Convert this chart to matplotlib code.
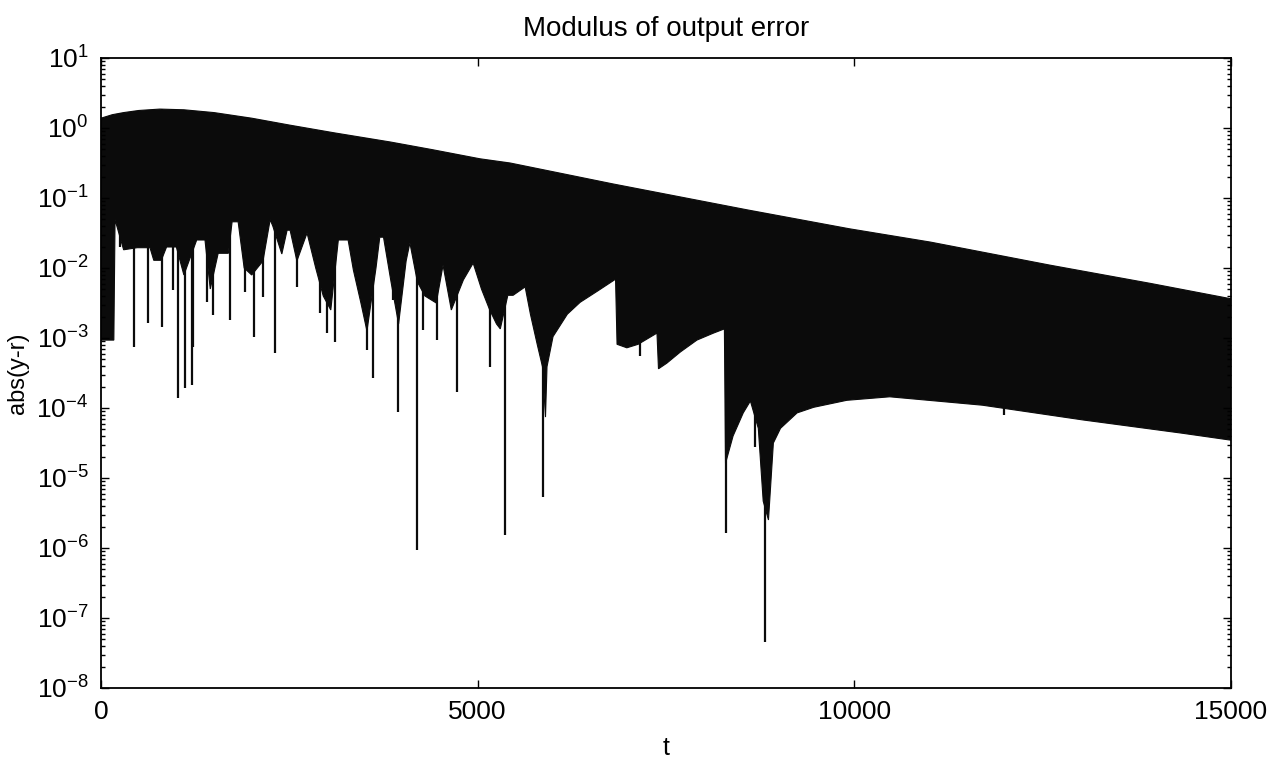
import matplotlib
matplotlib.use("Agg")
import matplotlib.pyplot as plt
import numpy as np
from matplotlib.ticker import LogLocator, NullFormatter, FixedLocator

plt.rcParams['font.family'] = ['Liberation Sans', 'DejaVu Sans']
plt.rcParams['mathtext.fontset'] = 'custom'
plt.rcParams['mathtext.rm'] = 'Liberation Sans'
plt.rcParams['mathtext.it'] = 'Liberation Sans:italic'

# upper edge of the oscillation band (t, log10 |y-r|)
upper_t = [0, 150, 300, 500, 780, 1100, 1500, 2000, 2510, 3100, 3840, 4400, 5030, 5430,
           6800, 8580, 9935, 11010, 12600, 13930, 15000]
upper_exp = [0.14, 0.19, 0.22, 0.25, 0.27, 0.26, 0.22, 0.14, 0.04, -0.07, -0.20, -0.31,
             -0.44, -0.50, -0.80, -1.17, -1.44, -1.63, -1.96, -2.22, -2.44]

# lower edge of the band (without the thin spikes)
lower_t = [0, 170, 186, 300, 480, 650, 700, 800, 870, 1000, 1100, 1270, 1380, 1450, 1555,
           1690, 1740, 1820, 1900, 2000, 2150, 2245, 2280, 2400, 2470, 2510, 2600, 2735,
           2850, 2950, 3050, 3150, 3280, 3350, 3450, 3530, 3650, 3700, 3750, 3850, 3950,
           4050, 4100, 4200, 4300, 4450, 4540, 4650, 4810, 4940, 5050, 5160, 5250, 5300,
           5400, 5470, 5630, 5700, 5790, 5860, 5900, 5920, 6000, 6190, 6360, 6590, 6830,
           6850, 6980, 7130, 7380, 7400, 7510, 7690, 7910, 8130, 8275, 8290, 8390, 8525,
           8620, 8725, 8790, 8860, 8925, 9020, 9240, 9460, 9900, 10470, 11700, 13030,
           14350, 15000]
lower_exp = [-3.03, -3.03, -1.31, -1.74, -1.71, -1.71, -1.89, -1.89, -1.70, -1.70, -2.10,
             -1.60, -1.60, -2.30, -1.79, -1.79, -1.34, -1.34, -2.00, -2.10, -1.90, -1.31,
             -1.40, -1.80, -1.46, -1.46, -1.90, -1.50, -2.00, -2.40, -2.60, -1.60, -1.60,
             -2.03, -2.50, -2.90, -2.00, -1.56, -1.56, -2.20, -2.80, -1.90, -1.64, -2.20,
             -2.40, -2.50, -1.96, -2.60, -2.17, -1.93, -2.30, -2.60, -2.80, -2.87, -2.39,
             -2.39, -2.27, -2.66, -3.09, -3.41, -4.13, -3.41, -2.98, -2.66, -2.49, -2.33,
             -2.16, -3.09, -3.14, -3.09, -2.93, -3.44, -3.36, -3.20, -3.03, -2.93, -2.87,
             -4.79, -4.40, -4.07, -3.90, -4.29, -5.33, -5.60, -4.50, -4.29, -4.07, -3.99,
             -3.89, -3.84, -3.96, -4.17, -4.36, -4.46]

# thin downward spikes (t, log10 of their tip)
spike_t = [252, 440, 625, 810, 955, 1020, 1115, 1205, 1225, 1405, 1490, 1710, 1910, 2030,
           2150, 2310, 2600, 2910, 3000, 3110, 3530, 3610, 3880, 3945, 4195, 4280, 4460,
           4730, 5165, 5360, 5865, 7150, 8300, 8680, 8820, 11990]
spike_exp = [-1.70, -3.13, -2.79, -2.84, -2.31, -3.86, -3.71, -3.67, -3.13, -2.49, -2.67,
             -2.74, -2.34, -2.99, -2.41, -3.21, -2.27, -2.64, -2.93, -3.06, -3.17, -3.57,
             -2.46, -4.06, -6.03, -2.89, -3.03, -3.77, -3.41, -5.81, -5.27, -3.26, -5.79,
             -4.56, -7.34, -4.10]

upper_v = 10.0 ** np.array(upper_exp)
lower_v = 10.0 ** np.array(lower_exp)
spike_v = 10.0 ** np.array(spike_exp)

fig = plt.figure(figsize=(12.87, 7.63), dpi=100)
ax = fig.add_axes([0.0785, 0.0983, 0.878, 0.8257])
ax.set_yscale('log')

ax.fill(np.r_[upper_t, lower_t[::-1]], np.r_[upper_v, lower_v[::-1]],
        color='#0b0b0b', lw=0.8, ec='#0b0b0b')
spike_top = 10.0 ** np.interp(spike_t, upper_t, upper_exp)
ax.vlines(spike_t, spike_v, spike_top, color='#0b0b0b', lw=1.6)

ax.set_xlim(0, 15000)
ax.set_ylim(1e-8, 1e1)
ax.xaxis.set_major_locator(FixedLocator([0, 5000, 10000, 15000]))
ax.yaxis.set_major_locator(LogLocator(base=10, numticks=20))
ax.yaxis.set_minor_locator(LogLocator(base=10, subs=np.arange(2, 10), numticks=20))
ax.yaxis.set_minor_formatter(NullFormatter())

ax.tick_params(which='both', direction='in', top=True, right=True, labelsize=19, width=1)
ax.tick_params(which='major', length=6, pad=9)
ax.tick_params(which='minor', length=3)
for s in ax.spines.values():
    s.set_linewidth(1.3)

ax.set_title('Modulus of output error', fontsize=20, pad=16)
ax.set_xlabel('t', fontsize=18, labelpad=8)
ax.set_ylabel('abs(y-r)', fontsize=17)
ax.yaxis.set_label_coords(-0.064, 0.5)

fig.savefig('out.png', dpi=100)
